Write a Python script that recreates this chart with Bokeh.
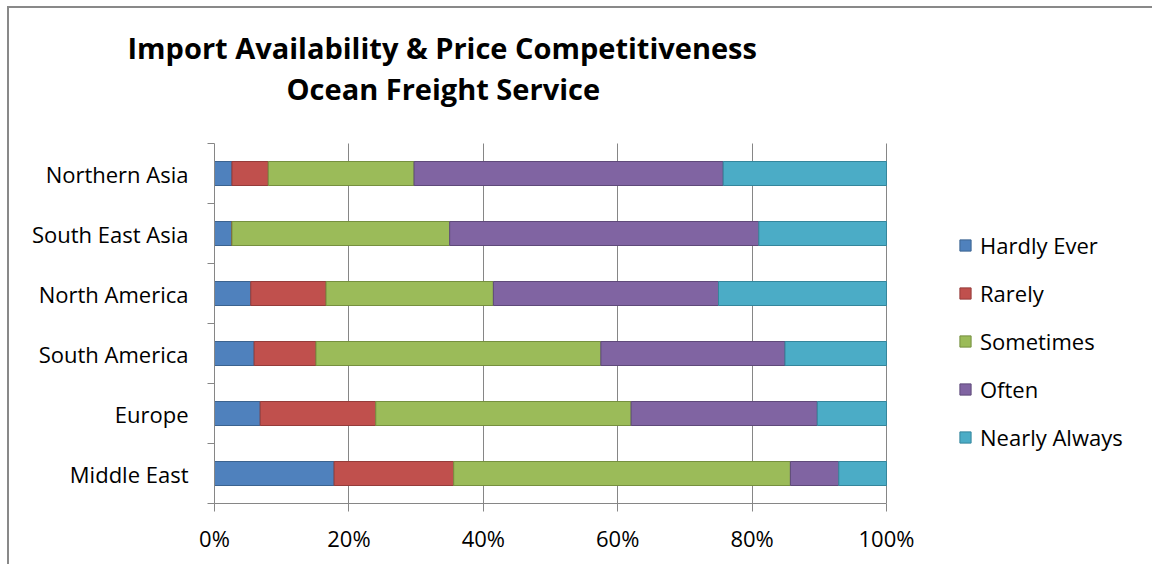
from bokeh.plotting import figure
from bokeh.models import (Range1d, FixedTicker, PrintfTickFormatter, Title,
                          ColumnDataSource, BoxAnnotation)
from bokeh.embed import file_html
from bokeh.resources import INLINE

# ---- data ----
regions = ["Northern Asia", "South East Asia", "North America",
           "South America", "Europe", "Middle East"]
hardly_ever = [2.6, 2.6, 5.4, 5.9, 6.8, 17.8]
rarely = [5.4, 0.0, 11.2, 9.2, 17.2, 17.8]
sometimes = [21.7, 32.4, 24.9, 42.4, 38.0, 50.1]
often = [46.0, 46.0, 33.5, 27.4, 27.7, 7.2]
nearly_always = [24.3, 19.0, 25.0, 15.1, 10.3, 7.1]
series_names = ["Hardly Ever", "Rarely", "Sometimes", "Often", "Nearly Always"]
x_ticks = [0, 20, 40, 60, 80, 100]
title_lines = ["Import Availability & Price Competitiveness", "Ocean Freight Service"]

fills = ["#4F81BD", "#C0504D", "#9BBB59", "#8064A2", "#4BACC6"]
outlines = ["#3B6390", "#953C3A", "#76903F", "#5F4A7A", "#35869C"]
FONT = "Open Sans"
FS = "22px"
GRAY = "#868686"

# canvas geometry: the frame reaches the right edge so the legend sits inside it
W, H = 1145, 558
LEFT, BOTTOM, TOP = 205, 63, 99
PX_PER_PCT = 6.72
PX_PER_ROW = 60.0

n = len(regions)
ypos = [n - i - 0.5 for i in range(n)]
keys = ["hardly_ever", "rarely", "sometimes", "often", "nearly_always"]
source = ColumnDataSource(dict(y=ypos, region=regions, hardly_ever=hardly_ever,
                               rarely=rarely, sometimes=sometimes, often=often,
                               nearly_always=nearly_always))

x_max = (W - LEFT) / PX_PER_PCT
y_max = (H - BOTTOM - TOP) / PX_PER_ROW

p = figure(width=W, height=H, x_range=Range1d(0, x_max), y_range=Range1d(0, y_max),
           output_backend="svg", toolbar_location=None,
           min_border_left=LEFT, min_border_right=0, min_border_top=TOP,
           min_border_bottom=BOTTOM)
p.styles = {"margin-left": "7px", "margin-top": "6px",
            "border-left": "2px solid #898989", "border-top": "2px solid #898989"}

p.hbar_stack(keys, y="y", height=0.4, source=source, color=fills,
             line_color=outlines, line_width=1, legend_label=series_names)

# x axis
p.xaxis.bounds = (x_ticks[0], x_ticks[-1])
p.xaxis.ticker = FixedTicker(ticks=x_ticks)
p.xaxis.formatter = PrintfTickFormatter(format="%d%%")
p.xaxis.major_tick_out = 8
p.xaxis.major_tick_in = 0
p.xaxis.minor_tick_line_color = None
p.xaxis.axis_line_color = GRAY
p.xaxis.major_tick_line_color = GRAY
p.xaxis.major_label_text_font = FONT
p.xaxis.major_label_text_font_size = FS
p.xaxis.major_label_text_color = "black"
p.xaxis.major_label_standoff = 11

# y axis
p.yaxis.bounds = (0, n)
p.yaxis.ticker = FixedTicker(ticks=ypos, minor_ticks=list(range(0, n + 1)))
p.yaxis.major_label_overrides = {y: r for y, r in zip(ypos, regions)}
p.yaxis.major_tick_line_color = None
p.yaxis.major_tick_out = 0
p.yaxis.major_tick_in = 0
p.yaxis.minor_tick_out = 7
p.yaxis.minor_tick_in = 0
p.yaxis.minor_tick_line_color = GRAY
p.yaxis.axis_line_color = GRAY
p.yaxis.major_label_text_font = FONT
p.yaxis.major_label_text_font_size = FS
p.yaxis.major_label_text_color = "black"
p.yaxis.major_label_standoff = 19

p.ygrid.grid_line_color = None
xg = p.xgrid[0]
xg.grid_line_color = GRAY
if "cross_bounds" in xg.properties():
    xg.cross_bounds = (0, n)
else:
    # hide the part of the vertical grid lines above the plot area
    p.add_layout(BoxAnnotation(bottom=n, fill_color="white", fill_alpha=1.0,
                               line_color=None, level="underlay"))
p.outline_line_color = None

# legend
lg = p.legend[0]
lg.location = (744, 51)
lg.border_line_color = None
lg.background_fill_alpha = 0
lg.padding = 0
lg.margin = 0
lg.spacing = 18
lg.label_height = 24
lg.glyph_height = 14
lg.glyph_width = 14
lg.label_standoff = 8
lg.label_text_font = FONT
lg.label_text_font_size = FS
lg.label_text_color = "black"

# title: two lines in the top panel (the first one added sits nearest the plot)
for txt, off in [(title_lines[1], 72), (title_lines[0], -87)]:
    p.add_layout(Title(text=txt, align="left", offset=off, standoff=0,
                       text_font=FONT, text_font_style="bold",
                       text_font_size="29px", text_color="black"), "above")

open("out.html", "w").write(file_html(p, INLINE))
